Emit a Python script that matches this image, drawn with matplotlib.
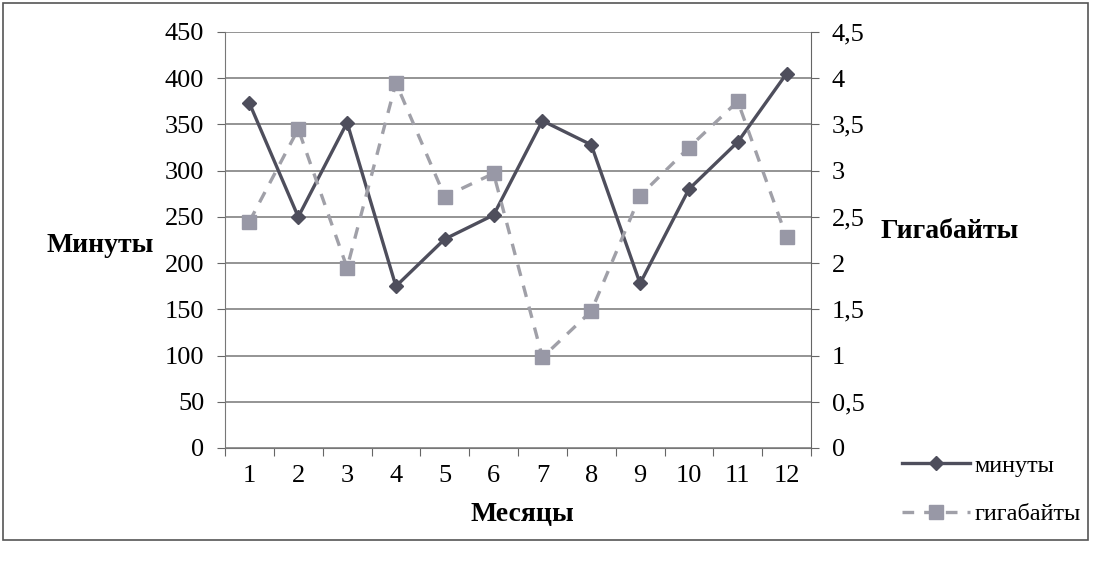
import matplotlib.pyplot as plt
import numpy as np
from matplotlib.lines import Line2D

plt.rcParams['font.family'] = ['Liberation Serif', 'DejaVu Serif']

months = [1, 2, 3, 4, 5, 6, 7, 8, 9, 10, 11, 12]
minutes = [373, 250, 352, 175, 226, 252, 354, 328, 178, 280, 331, 405]
gigabytes = [2.45, 3.45, 1.95, 3.95, 2.72, 2.97, 0.98, 1.48, 2.73, 3.25, 3.75, 2.28]

left_ticks = [0, 50, 100, 150, 200, 250, 300, 350, 400, 450]
right_ticks = [0, 0.5, 1, 1.5, 2, 2.5, 3, 3.5, 4, 4.5]
right_labels = ['0', '0,5', '1', '1,5', '2', '2,5', '3', '3,5', '4', '4,5']

line_min = '#4e4e5c'
line_gb = '#a0a0a8'
mark_gb = '#9898a6'

fig = plt.figure(figsize=(10.93, 5.62), dpi=100)
ax = fig.add_axes([225 / 1093, 1 - 448 / 562, (811 - 225) / 1093, (448 - 32) / 562])
ax2 = ax.twinx()

ax.plot(months, minutes, color=line_min, lw=2.4, marker='D', ms=7,
        mfc=line_min, mec=line_min, zorder=3)
ax2.plot(months, gigabytes, color=line_gb, lw=2.4, ls=(0, (3.5, 3)), marker='s',
         ms=9.5, mfc=mark_gb, mec=mark_gb, zorder=2)

ax.set_xlim(0.5, 12.5)
ax.set_ylim(0, 450)
ax2.set_ylim(0, 4.5)
ax.set_yticks(left_ticks)
ax2.set_yticks(right_ticks)
ax2.set_yticklabels(right_labels)

ax.set_xticks(np.arange(0.5, 13, 1))
ax.set_xticklabels([])
ax.set_xticks(months, minor=True)
ax.set_xticklabels([str(m) for m in months], minor=True)
ax.tick_params(axis='x', which='minor', length=0, pad=12, labelsize=19)
ax.tick_params(axis='x', which='major', length=6, color='#666666', direction='out')
ax.tick_params(axis='y', length=6, color='#666666', labelsize=19, pad=9)
ax2.tick_params(axis='y', length=6, color='#666666', labelsize=19, pad=9)

ax.grid(axis='y', color='#777777', lw=1.1)
ax.set_axisbelow(True)
for sp in ['top']:
    ax.spines[sp].set_visible(False)
    ax2.spines[sp].set_visible(False)
ax.spines['left'].set_linestyle((0, (1, 1)))
ax.spines['left'].set_color('#777777')
ax2.spines['left'].set_visible(False)
ax2.spines['right'].set_color('#666666')
ax.spines['bottom'].set_color('#777777')
ax2.spines['bottom'].set_visible(False)
ax.spines['right'].set_visible(False)

fig.text(100 / 1093, 1 - 245 / 562, 'Минуты', fontsize=20, fontweight='bold',
         ha='center', va='center')
fig.text(950 / 1093, 1 - 232 / 562, 'Гигабайты', fontsize=20, fontweight='bold',
         ha='center', va='center')
fig.text(522 / 1093, 1 - 515 / 562, 'Месяцы', fontsize=20, fontweight='bold',
         ha='center', va='center')

handles = [
    Line2D([], [], color=line_min, lw=2.4, marker='D', ms=7, mfc=line_min, mec=line_min),
    Line2D([], [], color=line_gb, lw=2.4, ls=(0, (3.5, 3)), marker='s', ms=9.5,
           mfc=mark_gb, mec=mark_gb),
]
fig.legend(handles, ['минуты', 'гигабайты'], loc='center left',
           bbox_to_anchor=(880 / 1093, 1 - 490 / 562), frameon=False,
           fontsize=17.5, handlelength=2.8, labelspacing=1.1, handletextpad=0.2)

fig.add_artist(plt.Rectangle((3 / 1093, 1 - 540 / 562), 1085 / 1093, 537 / 562,
                             transform=fig.transFigure, fill=False,
                             ec='#555555', lw=1.2))

fig.savefig('out.png', dpi=100)
